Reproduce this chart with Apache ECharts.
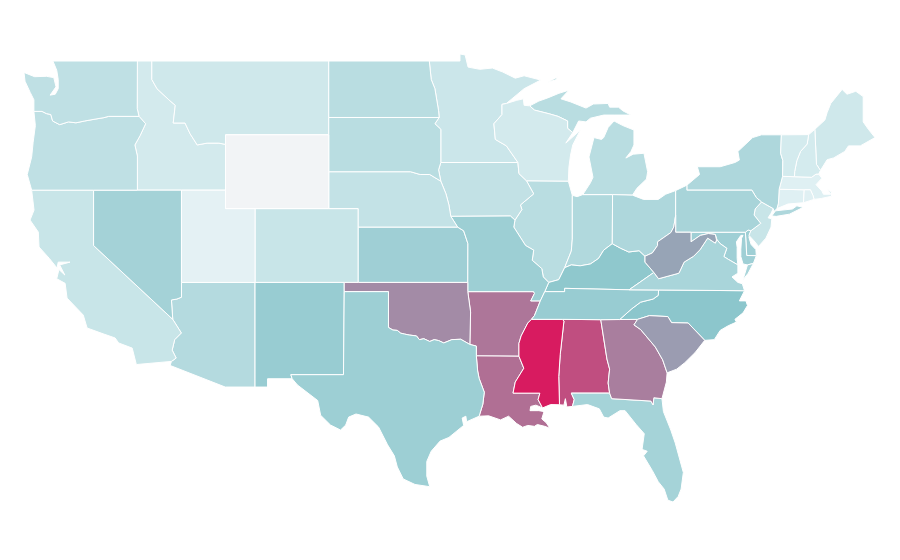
<!DOCTYPE html>
<html>
<head>
<meta charset="utf-8">
<script src="https://cdn.jsdelivr.net/npm/echarts@6/dist/echarts.min.js"></script>
<style>html,body{margin:0;padding:0;background:#fff}#main{width:900px;height:560px}</style>
</head>
<body>
<div id="main"></div>
<script>
// values, on a 0-100 colour index
var stateNames = ['Alabama','Arizona','Arkansas','California','Colorado','Connecticut','Delaware','Florida','Georgia','Idaho','Illinois','Indiana','Iowa','Kansas','Kentucky','Louisiana','Maine','Maryland','Massachusetts','Michigan','Minnesota','Mississippi','Missouri','Montana','Nebraska','Nevada','New Hampshire','New Jersey','New Mexico','New York','North Carolina','North Dakota','Ohio','Oklahoma','Oregon','Pennsylvania','Rhode Island','South Carolina','South Dakota','Tennessee','Texas','Utah','Vermont','Virginia','Washington','West Virginia','Wisconsin','Wyoming'];
var stateValues = [90,50,82,42,42,33,58,55.5,80.5,38,48,51,44.5,58,64,83.5,39.5,58,33,48,41,100,58.5,39.5,44,56,37.5,42,60.5,52,65,48,52,78,45.5,54.5,32,74.5,48,60.5,58.5,25,37.5,54,45.5,73,38,1];
var colorStops = ['#f3f4f6','#dff0f3','#88c4ca','#d81b60'];

// shared state borders, lon/lat, so that neighbours meet exactly
var b = {
  wa_top:[[-122.76,49],[-117.03,49]],
  wa_coast:[[-122.76,49],[-122.5,48.5],[-122.4,48.0],[-122.4,47.5],[-122.6,47.2],[-122.95,47.15],[-122.55,47.6],[-122.7,48.1],[-123.2,48.17],[-124.0,48.15],[-124.72,48.38],[-124.65,47.9],[-124.3,47.3],[-124.05,46.9],[-124.05,46.27]],
  wa_or:[[-124.05,46.27],[-123.5,46.27],[-123.2,46.15],[-122.9,46.1],[-122.78,45.75],[-122.3,45.55],[-121.7,45.7],[-121.2,45.65],[-120.6,45.75],[-119.9,45.85],[-119.3,45.93],[-118.98,46.0],[-116.92,46.0]],
  wa_id:[[-117.03,49],[-117.04,46.42],[-116.92,46.0]],
  or_id:[[-116.92,46.0],[-116.47,45.6],[-116.85,44.95],[-117.2,44.45],[-117.03,43.85],[-117.03,42]],
  or_coast:[[-124.05,46.27],[-123.95,45.5],[-124.1,44.6],[-124.2,43.8],[-124.5,42.85],[-124.2,42]],
  or_ca:[[-124.2,42],[-120,42]],
  or_nv:[[-120,42],[-117.03,42]],
  ca_coast:[[-124.2,42],[-124.04,40.92],[-124.31,40.38],[-123.75,39.73],[-123.7,38.92],[-123.0,38.3],[-122.48,37.78],[-122.4,38.1],[-121.6,38.1],[-122.3,37.95],[-121.95,37.4],[-122.35,37.7],[-122.5,37.2],[-121.93,36.95],[-121.8,36.15],[-120.7,35.23],[-120.44,34.53],[-119.3,34.2],[-118.54,33.99],[-118.3,33.72],[-117.38,33.44],[-117.1,32.55]],
  ca_mx:[[-117.1,32.55],[-114.72,32.72]],
  ca_az:[[-114.72,32.72],[-114.4,32.9],[-114.67,33.33],[-114.5,33.9],[-114.05,34.26],[-114.63,35]],
  ca_nv:[[-114.63,35],[-120,39],[-120,42]],
  id_nv:[[-117.03,42],[-114.04,42]],
  id_ut:[[-114.04,42],[-111.05,42]],
  nv_ut:[[-114.04,42],[-114.04,37]],
  nv_az:[[-114.04,37],[-114.04,36.2],[-114.35,36.1],[-114.72,36.05],[-114.63,35]],
  ut_az:[[-114.04,37],[-109.05,37]],
  ut_wy:[[-111.05,42],[-111.05,41],[-109.05,41]],
  ut_co:[[-109.05,41],[-109.05,37]],
  az_nm:[[-109.05,37],[-109.05,31.33]],
  az_mx:[[-109.05,31.33],[-111.07,31.33],[-114.81,32.5],[-114.72,32.72]],
  id_top:[[-117.03,49],[-116.05,49]],
  id_mt:[[-116.05,49],[-116.05,48],[-115.7,47.5],[-114.9,46.9],[-114.46,46.6],[-114.6,45.64],[-113.8,45.64],[-113.45,45.05],[-112.97,44.45],[-112.3,44.55],[-111.5,44.55],[-111.05,44.48]],
  id_wy:[[-111.05,44.48],[-111.05,42]],
  mt_wy:[[-111.05,44.48],[-111.05,45],[-104.05,45]],
  mt_top:[[-116.05,49],[-104.05,49]],
  mt_nd:[[-104.05,49],[-104.05,45.94]],
  mt_sd:[[-104.05,45.94],[-104.05,45]],
  sd_wy:[[-104.05,45],[-104.05,43]],
  ne_wy:[[-104.05,43],[-104.05,41]],
  co_wy:[[-109.05,41],[-104.05,41]],
  ne_co:[[-104.05,41],[-102.05,41],[-102.05,40]],
  ks_co:[[-102.05,40],[-102.05,37]],
  co_nm:[[-109.05,37],[-103,37]],
  co_ok:[[-103,37],[-102.05,37]],
  nm_ok:[[-103,37],[-103,36.5]],
  nm_tx:[[-103,36.5],[-103.05,32],[-106.62,32],[-106.53,31.78]],
  nm_mx:[[-106.53,31.78],[-108.2,31.78],[-108.2,31.33],[-109.05,31.33]],
  ks_ok:[[-102.05,37],[-94.62,37]],
  ok_tx:[[-103,36.5],[-100,36.5],[-100,34.56],[-99.7,34.42],[-99.4,34.4],[-99.17,34.25],[-98.9,34.2],[-98.6,34.15],[-98.1,34.1],[-97.9,33.9],[-97.6,33.95],[-97.2,33.8],[-96.9,33.9],[-96.6,33.85],[-96.25,33.72],[-95.7,33.9],[-95.1,33.92],[-94.48,33.64]],
  mo_ok:[[-94.62,37],[-94.62,36.5]],
  ar_ok:[[-94.62,36.5],[-94.43,35.4],[-94.48,33.64]],
  ar_tx:[[-94.48,33.64],[-94.04,33.55],[-94.04,33.02]],
  la_tx:[[-94.04,33.02],[-93.95,32.2],[-93.85,31.8],[-93.5,31.05],[-93.6,30.4],[-93.85,29.75]],
  tx_coast:[[-93.85,29.75],[-94.7,29.45],[-94.75,29.75],[-95,29.65],[-94.9,29.25],[-95.9,28.6],[-96.5,28.4],[-97.1,27.85],[-97.4,27.3],[-97.4,26.5],[-97.2,25.93]],
  tx_mx:[[-97.2,25.93],[-98.2,26.05],[-99,26.35],[-99.4,27],[-99.6,27.6],[-100.06,28.2],[-100.67,29.16],[-101.35,29.7],[-102.2,29.87],[-102.7,29.7],[-102.9,29.27],[-103.25,29],[-103.93,29.27],[-104.6,29.8],[-104.8,30.6],[-106.17,31.44],[-106.53,31.78]],
  ne_ks:[[-102.05,40],[-95.31,40]],
  ne_sd:[[-104.05,43],[-98.5,43],[-97.85,42.85],[-97.2,42.85],[-96.45,42.49]],
  ia_ne:[[-96.45,42.49],[-96.1,41.8],[-95.9,41.2],[-95.77,40.58]],
  mo_ne:[[-95.77,40.58],[-95.31,40]],
  ks_mo:[[-95.31,40],[-94.9,39.8],[-94.61,39.1],[-94.62,37]],
  nd_top:[[-104.05,49],[-97.23,49]],
  nd_sd:[[-104.05,45.94],[-96.56,45.94]],
  mn_nd:[[-97.23,49],[-97.1,48],[-96.85,47.5],[-96.6,46.3],[-96.56,45.94]],
  mn_sd:[[-96.56,45.94],[-96.85,45.6],[-96.45,45.3],[-96.45,43.5]],
  ia_sd:[[-96.45,43.5],[-96.6,43.1],[-96.45,42.49]],
  ia_mn:[[-96.45,43.5],[-91.22,43.5]],
  ia_mo:[[-95.77,40.58],[-91.73,40.6],[-91.42,40.38]],
  ia_wi:[[-91.22,43.5],[-91.15,42.9],[-90.64,42.51]],
  ia_il:[[-90.64,42.51],[-90.15,41.8],[-91.05,41.2],[-90.95,40.95],[-91.42,40.38]],
  mn_wi:[[-92,46.7],[-92.3,46.65],[-92.3,46.1],[-92.85,45.6],[-92.75,44.75],[-92,44.4],[-91.22,43.5]],
  mn_top:[[-97.23,49],[-95.15,49],[-95.15,49.38],[-94.8,49.33],[-94.6,48.67],[-93.8,48.55],[-92.95,48.62],[-92.24,48.4],[-91.4,48.07],[-90.8,48.2],[-89.67,47.97],[-90.8,47.5],[-92,46.7]],
  il_wi:[[-90.64,42.51],[-87.8,42.49]],
  wi_lake:[[-87.8,42.49],[-87.76,43.25],[-87.65,43.9],[-87.5,44.45],[-86.98,45.26],[-87.97,44.55],[-87.5,45.12]],
  wi_mi:[[-87.5,45.12],[-87.85,45.35],[-87.85,45.75],[-88.5,46],[-89.1,46.14],[-90.1,46.34],[-90.42,46.57]],
  wi_sup:[[-90.42,46.57],[-90.8,46.6],[-90.85,46.95],[-91.3,46.87],[-92,46.7]],
  mi_up:[[-90.42,46.57],[-89.8,46.83],[-89.2,47],[-88.44,47.25],[-87.76,47.42],[-88.3,46.95],[-87.63,46.78],[-86.6,46.45],[-86.1,46.67],[-85.1,46.7],[-85,46.5],[-84.4,46.5],[-84.1,46.3],[-83.55,46.07],[-84.7,46.07],[-85.4,46.07],[-86.3,45.9],[-86.6,45.7],[-87.1,45.75],[-87.5,45.12]],
  isle_royale:[[-89.2,47.85],[-88.5,48.15],[-88.65,47.98],[-89.2,47.85]],
  mi_lp:[[-86.82,41.76],[-86.3,42.4],[-86.13,42.7],[-86.4,43.8],[-86.06,44.85],[-85.55,44.75],[-85.4,44.85],[-85.1,45.4],[-84.7,45.75],[-84.1,45.5],[-83.35,45.26],[-83.35,44.45],[-83.55,44.1],[-83.9,43.74],[-83.4,43.95],[-82.67,44],[-82.42,43],[-82.5,42.6],[-83.15,42.1],[-83.45,41.73]],
  il_lake:[[-87.8,42.49],[-87.53,41.72]],
  in_lake:[[-87.53,41.72],[-87.2,41.65],[-86.82,41.76]],
  in_mi:[[-86.82,41.76],[-84.8,41.76]],
  mi_oh:[[-84.8,41.76],[-83.45,41.73]],
  oh_lake:[[-83.45,41.73],[-82.7,41.5],[-81.7,41.5],[-81.2,41.78],[-80.52,41.98]],
  oh_pa:[[-80.52,41.98],[-80.52,40.64]],
  oh_wv:[[-80.52,40.64],[-80.65,40],[-80.85,39.7],[-81.75,39.2],[-81.75,39],[-82.1,38.6],[-82.6,38.42]],
  ky_oh:[[-82.6,38.42],[-83,38.72],[-83.7,38.65],[-84.25,38.85],[-84.82,39.1]],
  in_oh:[[-84.82,39.1],[-84.8,41.76]],
  il_in:[[-87.53,41.72],[-87.53,39.35],[-87.6,38.7],[-87.95,38],[-88.05,37.8]],
  in_ky:[[-84.82,39.1],[-85.4,38.75],[-85.75,38.3],[-86.3,38],[-87,37.9],[-87.6,37.95],[-88.05,37.8]],
  il_ky:[[-88.05,37.8],[-88.45,37.15],[-89.13,37]],
  il_mo:[[-91.42,40.38],[-91.5,40],[-90.7,39],[-90.15,38.75],[-90.25,38.2],[-89.6,37.75],[-89.5,37.3],[-89.13,37]],
  ky_mo:[[-89.13,37],[-89.4,36.5]],
  mo_tn:[[-89.4,36.5],[-89.7,36]],
  ar_mo:[[-89.7,36],[-90.35,36],[-90.1,36.4],[-90.15,36.5],[-94.62,36.5]],
  ky_tn:[[-89.4,36.5],[-88.05,36.5],[-88.05,36.68],[-83.68,36.6]],
  ky_wv:[[-82.6,38.42],[-82.6,38.1],[-82,37.54]],
  ky_va:[[-82,37.54],[-83.68,36.6]],
  tn_va:[[-83.68,36.6],[-81.68,36.59]],
  nc_tn:[[-81.68,36.59],[-81.7,36.3],[-82.05,36.1],[-82.9,35.93],[-83.5,35.57],[-84.32,34.99]],
  ga_tn:[[-84.32,34.99],[-85.6,34.98]],
  al_tn:[[-85.6,34.98],[-88.2,35]],
  ms_tn:[[-88.2,35],[-90.3,35]],
  ar_tn:[[-90.3,35],[-90.1,35.2],[-89.7,36]],
  ar_ms:[[-90.3,35],[-90.55,34.8],[-91,34.1],[-91.15,33.7],[-91.15,33]],
  ar_la:[[-91.15,33],[-94.04,33.02]],
  la_ms:[[-91.15,33],[-90.82,32.35],[-91.4,31.6],[-91.55,31],[-89.73,31],[-89.85,30.65],[-89.55,30.2]],
  la_coast:[[-89.55,30.2],[-90,30.35],[-90.35,30.28],[-90.4,30.05],[-89.8,30.05],[-89.45,30],[-89.6,29.6],[-89.3,29.4],[-89.05,29.1],[-89.4,29.2],[-89.9,29.3],[-90.1,29.2],[-90.55,29.25],[-90.9,29.15],[-91.3,29.35],[-91.85,29.75],[-92.4,29.55],[-93.2,29.77],[-93.85,29.75]],
  ms_coast:[[-89.55,30.2],[-89,30.38],[-88.4,30.37]],
  al_ms:[[-88.4,30.37],[-88.45,31.9],[-88.35,33.1],[-88.1,34.9],[-88.2,35]],
  al_coast:[[-88.4,30.37],[-88.1,30.35],[-88,30.7],[-87.9,30.25],[-87.52,30.28]],
  al_fl:[[-87.52,30.28],[-87.4,30.65],[-87.6,31],[-85,31]],
  al_ga:[[-85,31],[-85.1,31.55],[-85,32.3],[-85.18,32.85],[-85.6,34.98]],
  fl_ga:[[-85,31],[-84.86,30.7],[-82.2,30.57],[-82.05,30.36],[-82,30.75],[-81.45,30.7]],
  fl_coast:[[-81.45,30.7],[-81.35,30],[-80.85,29],[-80.55,28.3],[-80,26.7],[-80.15,25.8],[-80.35,25.4],[-80.7,25.1],[-81.05,25.2],[-81.3,25.8],[-81.7,26.2],[-82.1,26.8],[-82.7,27.6],[-82.45,27.85],[-82.8,27.95],[-82.65,28.8],[-83.2,29.3],[-83.95,30.05],[-84.3,30.05],[-85.1,29.65],[-85.4,29.7],[-85.7,30.15],[-86.5,30.38],[-87.52,30.28]],
  ga_sc:[[-83.1,35],[-83.35,34.7],[-82.9,34.45],[-81.9,33.5],[-81.4,32.8],[-81.1,32.1]],
  ga_coast:[[-81.1,32.1],[-81.15,31.6],[-81.45,30.7]],
  ga_nc:[[-84.32,34.99],[-83.1,35]],
  sc_nc:[[-83.1,35],[-82.3,35.2],[-81.05,35.15],[-80.8,34.82],[-79.67,34.8],[-78.55,33.86]],
  sc_coast:[[-78.55,33.86],[-79.2,33.2],[-79.9,32.65],[-80.45,32.3],[-81.1,32.1]],
  nc_coast:[[-78.55,33.86],[-77.9,33.9],[-77.5,34.4],[-76.96,34.65],[-76.4,34.85],[-76.5,35],[-75.95,35.35],[-75.65,35.75],[-75.75,36],[-76.2,36],[-75.85,36.55]],
  nc_va:[[-81.68,36.59],[-75.85,36.55]],
  va_wv:[[-82,37.54],[-81.68,37.2],[-80.3,37.5],[-79.95,38.1],[-79.3,38.42],[-78.87,38.77],[-78.35,39.4],[-77.83,39.13],[-77.72,39.32]],
  md_va:[[-77.72,39.32],[-77.5,39.1],[-77.05,38.85],[-77.25,38.4],[-76.95,38.25],[-76.3,37.95]],
  va_coast:[[-76.3,37.95],[-76.3,37.5],[-76.7,37.3],[-76.3,37],[-76,36.93],[-75.85,36.55]],
  md_wv:[[-79.48,39.72],[-79.48,39.2],[-78.85,39.55],[-78.3,39.65],[-77.83,39.6],[-77.75,39.3],[-77.72,39.32]],
  pa_wv:[[-80.52,40.64],[-80.52,39.72],[-79.48,39.72]],
  md_pa:[[-79.48,39.72],[-75.79,39.72]],
  de_pa:[[-75.79,39.72],[-75.6,39.84],[-75.42,39.8]],
  md_de:[[-75.79,39.72],[-75.7,38.46]],
  de_coast:[[-75.42,39.8],[-75.55,39.45],[-75.4,39.05],[-75.08,38.78],[-75.05,38.45]],
  de_south:[[-75.05,38.45],[-75.7,38.46]],
  md_ocean:[[-75.05,38.45],[-75.25,38.03]],
  md_shore:[[-75.25,38.03],[-75.65,37.95]],
  md_bay:[[-75.65,37.95],[-75.95,38],[-76.1,38.4],[-76.1,38.8],[-76.05,39.4],[-75.95,39.55],[-76.1,39.55],[-76.4,39.2],[-76.35,38.9],[-76.35,38.3],[-76.3,37.95]],
  va_shore:[[-75.95,37.15],[-75.65,37.95],[-75.25,38.03],[-75.6,37.5],[-75.95,37.15]],
  pa_lake:[[-80.52,41.98],[-79.76,42.27]],
  ny_pa:[[-79.76,42.27],[-79.76,42],[-75.35,42],[-75.05,41.6],[-74.7,41.36]],
  nj_pa:[[-74.7,41.36],[-75.13,40.98],[-75.2,40.65],[-74.75,40.2],[-75.42,39.8]],
  nj_coast:[[-75.42,39.8],[-75.55,39.55],[-75.2,39.25],[-74.9,38.95],[-74.4,39.4],[-74.05,40],[-74,40.45],[-74.25,40.5],[-74.05,40.75],[-73.9,41]],
  ny_nj:[[-74.7,41.36],[-73.9,41]],
  ny_lake:[[-79.76,42.27],[-78.9,42.85],[-79.05,43.27],[-77.5,43.27],[-76.5,43.5],[-76.2,43.63],[-76.3,44.1],[-75.3,44.85],[-74.7,45],[-73.35,45]],
  ny_vt:[[-73.35,45],[-73.4,44],[-73.25,43.6],[-73.27,42.75]],
  ma_ny:[[-73.27,42.75],[-73.5,42.05]],
  ct_ny:[[-73.5,42.05],[-73.55,41.3],[-73.65,41]],
  ny_south:[[-73.65,41],[-73.85,40.85],[-73.9,41]],
  long_island:[[-74,40.6],[-73.75,40.88],[-72.6,40.98],[-72.3,41.15],[-71.87,41.07],[-72.8,40.7],[-73.7,40.58],[-74,40.6]],
  vt_top:[[-73.35,45],[-71.5,45.01]],
  vt_nh:[[-71.5,45.01],[-71.6,44.5],[-72.05,44.1],[-72.3,43.6],[-72.45,43],[-72.46,42.73]],
  ma_vt:[[-73.27,42.75],[-72.46,42.73]],
  ma_nh:[[-72.46,42.73],[-71.3,42.7],[-71,42.87],[-70.82,42.87]],
  nh_top:[[-71.5,45.01],[-71.08,45.3]],
  nh_me:[[-71.08,45.3],[-70.97,43.4],[-70.7,43.07]],
  nh_coast:[[-70.7,43.07],[-70.82,42.87]],
  me_out:[[-71.08,45.3],[-70.4,45.8],[-70.25,46.2],[-70,46.7],[-69.23,47.46],[-68.9,47.2],[-68.3,47.36],[-67.8,47.07],[-67.8,45.7],[-67.45,45.3],[-67,44.85],[-68,44.4],[-68.8,44.4],[-69.05,44.1],[-69.8,43.75],[-70.25,43.65],[-70.7,43.07]],
  ma_coast:[[-70.82,42.87],[-70.6,42.65],[-71,42.3],[-70.6,41.95],[-70.5,41.78],[-70,41.78],[-70.25,42.07],[-69.95,41.9],[-69.95,41.67],[-70.65,41.55],[-71.13,41.5]],
  ma_ri:[[-71.13,41.5],[-71.2,41.7],[-71.38,42.02]],
  ct_ma:[[-73.5,42.05],[-71.8,42.02]],
  ma_ri_top:[[-71.8,42.02],[-71.38,42.02]],
  ct_ri:[[-71.8,42.02],[-71.85,41.32]],
  ri_coast:[[-71.85,41.32],[-71.13,41.5]],
  ct_coast:[[-71.85,41.32],[-72.9,41.25],[-73.65,41]]
};

// each state: one or more rings, given as border names ("-" walks a border backwards)
var stateRings = {
  'Washington':['wa_top wa_id -wa_or -wa_coast'],
  'Oregon':['wa_or or_id -or_nv -or_ca -or_coast'],
  'California':['or_ca -ca_nv -ca_az -ca_mx -ca_coast'],
  'Nevada':['or_nv id_nv nv_ut nv_az ca_nv'],
  'Idaho':['id_mt id_wy -id_ut -id_nv -or_id -wa_id id_top'],
  'Montana':['mt_top mt_nd mt_sd -mt_wy -id_mt'],
  'Wyoming':['mt_wy sd_wy ne_wy -co_wy -ut_wy -id_wy'],
  'Utah':['id_ut ut_wy ut_co -ut_az -nv_ut'],
  'Colorado':['co_wy ne_co ks_co -co_ok -co_nm -ut_co'],
  'Arizona':['ut_az az_nm az_mx ca_az -nv_az'],
  'New Mexico':['co_nm nm_ok nm_tx nm_mx -az_nm'],
  'North Dakota':['nd_top mn_nd -nd_sd -mt_nd'],
  'South Dakota':['nd_sd mn_sd ia_sd -ne_sd -sd_wy -mt_sd'],
  'Nebraska':['ne_sd ia_ne mo_ne -ne_ks -ne_co -ne_wy'],
  'Kansas':['ne_ks ks_mo -ks_ok -ks_co'],
  'Oklahoma':['ks_ok mo_ok ar_ok -ok_tx -nm_ok co_ok'],
  'Texas':['ok_tx ar_tx la_tx tx_coast tx_mx -nm_tx'],
  'Minnesota':['mn_top mn_wi -ia_mn -mn_sd -mn_nd'],
  'Iowa':['ia_mn ia_wi ia_il -ia_mo -ia_ne -ia_sd'],
  'Missouri':['ia_mo il_mo ky_mo mo_tn ar_mo -mo_ok -ks_mo -mo_ne'],
  'Arkansas':['-ar_mo -ar_tn ar_ms ar_la -ar_tx -ar_ok'],
  'Louisiana':['-ar_la la_ms la_coast -la_tx'],
  'Mississippi':['ms_tn ar_ms la_ms ms_coast al_ms'],
  'Alabama':['al_tn -al_ms al_coast al_fl al_ga'],
  'Georgia':['ga_tn -al_ga fl_ga -ga_coast -ga_sc -ga_nc'],
  'Florida':['-fl_ga -al_fl -fl_coast'],
  'South Carolina':['ga_sc -sc_coast -sc_nc'],
  'North Carolina':['nc_va -nc_coast -sc_nc -ga_nc -nc_tn'],
  'Tennessee':['ky_tn tn_va nc_tn ga_tn al_tn ms_tn ar_tn -mo_tn'],
  'Kentucky':['ky_oh in_ky il_ky ky_mo ky_tn -ky_va -ky_wv'],
  'Illinois':['il_lake il_in il_ky -il_mo -ia_il il_wi'],
  'Wisconsin':['-il_wi -ia_wi -mn_wi -wi_sup -wi_mi -wi_lake'],
  'Indiana':['in_lake in_mi -in_oh in_ky -il_in'],
  'Ohio':['mi_oh oh_lake oh_pa oh_wv ky_oh in_oh'],
  'Michigan':['mi_lp -mi_oh -in_mi','wi_mi mi_up','isle_royale'],
  'West Virginia':['pa_wv md_wv -va_wv -ky_wv -oh_wv'],
  'Virginia':['ky_va tn_va nc_va -va_coast -md_va -va_wv','va_shore'],
  'Maryland':['md_pa md_de -de_south md_ocean md_shore md_bay -md_va -md_wv'],
  'Delaware':['de_pa de_coast de_south -md_de'],
  'Pennsylvania':['pa_lake ny_pa nj_pa -de_pa -md_pa -pa_wv -oh_pa'],
  'New Jersey':['-nj_pa ny_nj -nj_coast'],
  'New York':['ny_lake ny_vt ma_ny ct_ny ny_south -ny_nj -ny_pa','long_island'],
  'Vermont':['vt_top vt_nh -ma_vt -ny_vt'],
  'New Hampshire':['nh_top nh_me nh_coast -ma_nh -vt_nh'],
  'Maine':['me_out -nh_me'],
  'Massachusetts':['ma_vt ma_nh ma_coast ma_ri -ma_ri_top -ct_ma -ma_ny'],
  'Connecticut':['ct_ma ct_ri ct_coast -ct_ny'],
  'Rhode Island':['ma_ri_top -ma_ri -ri_coast -ct_ri']
};

function ring(spec) {
  var out = [];
  spec.split(' ').forEach(function (key) {
    var rev = key.charAt(0) === '-';
    var line = b[rev ? key.slice(1) : key].slice();
    if (rev) line.reverse();
    out = out.concat(line);
  });
  return out;
}

var features = stateNames.map(function (name) {
  return {
    type: 'Feature',
    properties: { name: name },
    geometry: {
      type: 'MultiPolygon',
      coordinates: stateRings[name].map(function (s) { return [ring(s)]; })
    }
  };
});
echarts.registerMap('usa', { type: 'FeatureCollection', features: features });

var chart = echarts.init(document.getElementById('main'));
chart.setOption({
  backgroundColor: '#fff',
  animation: false,
  visualMap: {
    show: false,
    min: 0,
    max: 100,
    inRange: { color: colorStops }
  },
  series: [{
    type: 'map',
    map: 'usa',
    aspectScale: 0.798,
    left: 24,
    top: 54,
    width: 851,
    height: 448,
    roam: false,
    label: { show: false },
    itemStyle: { borderColor: '#fff', borderWidth: 1 },
    emphasis: { disabled: true },
    select: { disabled: true },
    data: stateNames.map(function (n, i) { return { name: n, value: stateValues[i] }; })
  }]
});
</script>
</body>
</html>
